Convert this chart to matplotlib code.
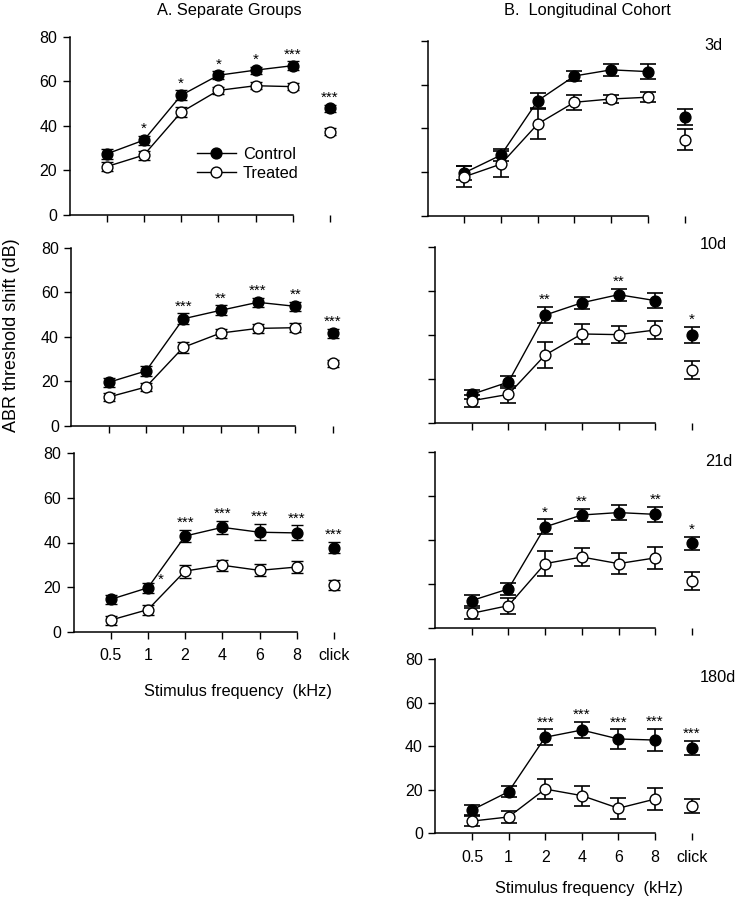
import matplotlib
matplotlib.use('Agg')
import matplotlib.pyplot as plt

plt.rcParams['font.family'] = ['Liberation Sans', 'DejaVu Sans']

freq_labels = ['0.5', '1', '2', '4', '6', '8', 'click']
yticks = [0, 20, 40, 60, 80]

# ---- A. Separate Groups ----
a1_ctrl = [27.4, 33.6, 53.7, 62.7, 65.0, 67.0, 47.9]
a1_ctrl_err = [2.1, 2.0, 2.2, 1.7, 1.6, 1.9, 1.5]
a1_trt = [21.7, 26.9, 46.1, 55.9, 58.0, 57.6, 37.4]
a1_trt_err = [1.9, 2.0, 2.2, 1.6, 1.5, 1.5, 1.5]
a1_stars = ['', '*', '*', '*', '*', '***', '***']

a2_ctrl = [19.6, 24.7, 48.1, 51.9, 55.5, 53.7, 41.7]
a2_ctrl_err = [2.1, 2.2, 2.4, 2.2, 2.0, 2.1, 2.0]
a2_trt = [13.0, 17.5, 35.3, 41.7, 43.8, 44.1, 28.1]
a2_trt_err = [2.0, 2.0, 2.6, 2.0, 2.0, 2.1, 1.7]
a2_stars = ['', '', '***', '**', '***', '**', '***']

a3_ctrl = [14.5, 19.7, 42.9, 46.8, 44.6, 44.3, 37.7]
a3_ctrl_err = [2.1, 2.3, 2.7, 3.0, 3.7, 3.4, 2.4]
a3_trt = [5.2, 9.9, 27.2, 29.8, 27.5, 29.0, 21.1]
a3_trt_err = [2.0, 2.2, 2.9, 2.4, 2.7, 2.9, 2.2]
a3_stars = ['', '*', '***', '***', '***', '***', '***']

# ---- B. Longitudinal Cohort ----
b1_ctrl = [19.7, 27.8, 52.6, 63.9, 66.7, 65.9, 45.1]
b1_ctrl_err = [3.3, 2.6, 3.4, 2.4, 2.6, 3.6, 3.7]
b1_trt = [17.9, 23.7, 42.0, 51.9, 53.4, 54.2, 34.7]
b1_trt_err = [4.7, 6.0, 6.8, 3.3, 2.0, 2.4, 4.8]
b1_stars = ['', '', '', '', '', '', '']

b2_ctrl = [12.9, 18.5, 49.0, 54.6, 58.3, 55.6, 39.9]
b2_ctrl_err = [2.0, 2.6, 3.6, 2.8, 2.8, 3.3, 3.6]
b2_trt = [10.0, 12.9, 30.8, 40.4, 40.1, 42.2, 23.9]
b2_trt_err = [2.7, 3.8, 6.1, 4.6, 3.8, 3.9, 4.1]
b2_stars = ['', '', '**', '', '**', '', '*']

b3_ctrl = [12.6, 17.9, 46.1, 51.5, 52.6, 51.8, 38.6]
b3_ctrl_err = [2.5, 2.6, 3.4, 2.8, 3.5, 3.5, 2.9]
b3_trt = [6.8, 10.3, 29.4, 32.4, 29.4, 32.0, 21.5]
b3_trt_err = [2.6, 3.6, 5.6, 4.2, 4.8, 4.9, 4.2]
b3_stars = ['', '', '*', '**', '', '**', '*']

b4_ctrl = [10.7, 19.1, 44.1, 47.4, 43.3, 42.8, 39.1]
b4_ctrl_err = [2.1, 2.5, 3.6, 3.7, 4.4, 5.1, 3.3]
b4_trt = [5.6, 7.5, 20.3, 17.3, 11.5, 15.7, 12.5]
b4_trt_err = [2.3, 2.7, 4.4, 4.6, 4.9, 5.1, 3.2]
b4_stars = ['', '', '***', '***', '***', '***', '***']

panel_names = ['3d', '10d', '21d', '180d']

W, H = 737, 900
fig = plt.figure(figsize=(W / 100, H / 100), dpi=100)

TXT = 11.8


def make_axes(L, spacing, T, B):
    return fig.add_axes([L / W, 1 - B / H, 7.6 * spacing / W, (B - T) / H])


def draw_panel(ax, ctrl, ctrl_err, trt, trt_err, stars, big, ylabels, xlabels,
               star_shift=None):
    x = list(range(len(freq_labels)))
    cap = 6.0 if big else 4.2
    elw = 1.2 if big else 1.0
    lines = []
    for vals, errs, fc in [(ctrl, ctrl_err, 'black'), (trt, trt_err, 'white')]:
        ax.errorbar(x, vals, yerr=errs, fmt='none', ecolor='black',
                    elinewidth=elw, capsize=cap, capthick=elw, zorder=2,
                    clip_on=False)
        ln, = ax.plot(x[:6], vals[:6], '-o', color='black', lw=1.0, ms=7.8,
                      mfc=fc, mec='black', mew=1.0, zorder=3, clip_on=False)
        ax.plot(x[6:], vals[6:], 'o', color='black', ms=7.8, mfc=fc,
                mec='black', mew=1.0, zorder=3, clip_on=False)
        lines.append(ln)
    for i, s in enumerate(stars):
        if not s:
            continue
        if star_shift is not None and star_shift[0] == i:
            ax.annotate(s, (x[i], ctrl[i]), xytext=star_shift[1],
                        textcoords='offset points', ha='center', va='center',
                        fontsize=11)
        else:
            ax.annotate(s, (x[i], ctrl[i] + ctrl_err[i]), xytext=(0, 0.0),
                        textcoords='offset points', ha='center', va='bottom',
                        fontsize=11)
    ax.set_xlim(-1, 6.6)
    ax.set_ylim(0, 80)
    ax.spines['top'].set_visible(False)
    ax.spines['right'].set_visible(False)
    ax.spines['bottom'].set_bounds(-1, 5)
    for sp in ['left', 'bottom']:
        ax.spines[sp].set_linewidth(1.1)
    ax.set_xticks(x)
    ax.set_yticks(yticks)
    ax.set_xticklabels(freq_labels if xlabels else [''] * len(x))
    ax.set_yticklabels([str(v) for v in yticks] if ylabels else [''] * len(yticks))
    ax.tick_params(axis='both', direction='out', width=1.0, labelsize=11.5,
                   colors='black')
    ax.tick_params(axis='y', length=5, pad=4)
    ax.tick_params(axis='x', length=5, pad=7)
    ax.patch.set_visible(False)
    return lines


# Left column
axA1 = make_axes(69.5, 37.2, 36.7, 215.0)
axA2 = make_axes(71.4, 37.3, 247.7, 426.0)
axA3 = make_axes(73.5, 37.2, 453.3, 631.7)
# Right column
axB1 = make_axes(427.6, 36.7, 40.7, 216.0)
axB2 = make_axes(435.0, 36.7, 247.0, 422.7)
axB3 = make_axes(435.0, 36.7, 452.3, 628.3)
axB4 = make_axes(435.4, 36.6, 659.0, 833.3)

lines = draw_panel(axA1, a1_ctrl, a1_ctrl_err, a1_trt, a1_trt_err, a1_stars,
                   False, True, False)
draw_panel(axA2, a2_ctrl, a2_ctrl_err, a2_trt, a2_trt_err, a2_stars,
           False, True, False)
draw_panel(axA3, a3_ctrl, a3_ctrl_err, a3_trt, a3_trt_err, a3_stars,
           False, True, True, star_shift=(1, (9.5, 6.0)))
draw_panel(axB1, b1_ctrl, b1_ctrl_err, b1_trt, b1_trt_err, b1_stars,
           True, False, False)
draw_panel(axB2, b2_ctrl, b2_ctrl_err, b2_trt, b2_trt_err, b2_stars,
           True, False, False)
draw_panel(axB3, b3_ctrl, b3_ctrl_err, b3_trt, b3_trt_err, b3_stars,
           True, False, False)
draw_panel(axB4, b4_ctrl, b4_ctrl_err, b4_trt, b4_trt_err, b4_stars,
           True, True, True)

axA1.legend(lines, ['Control', 'Treated'], loc='upper left',
            bbox_to_anchor=(197 / W, 1 - 147 / H), bbox_transform=fig.transFigure,
            frameon=False, fontsize=TXT, handlelength=2.35, handletextpad=0.45,
            borderpad=0, borderaxespad=0, labelspacing=0.25)

axA3.set_xlabel('Stimulus frequency  (kHz)', fontsize=TXT)
axA3.xaxis.set_label_coords((238 - 73.5) / (7.6 * 37.2), -(691.7 - 631.7) / (631.7 - 453.3))
axB4.set_xlabel('Stimulus frequency  (kHz)', fontsize=TXT)
axB4.xaxis.set_label_coords((588.5 - 435.4) / (7.6 * 36.6), -(888 - 833.3) / (833.3 - 659))
axA3.xaxis.label.set_va('center')
axB4.xaxis.label.set_va('center')

fig.text(229 / W, 1 - 10 / H, 'A. Separate Groups', ha='center', va='center', fontsize=TXT)
fig.text(587 / W, 1 - 10 / H, 'B.  Longitudinal Cohort', ha='center', va='center', fontsize=TXT)
fig.text(12 / W, 1 - 335 / H, 'ABR threshold shift (dB)', rotation=90,
         ha='center', va='center', fontsize=13)

label_pos = [(713, 46), (713, 245), (719, 461), (718, 677)]
for name, (px, py) in zip(panel_names, label_pos):
    fig.text(px / W, 1 - py / H, name, ha='center', va='center', fontsize=TXT)

fig.savefig('out.png', dpi=100, facecolor='white')
